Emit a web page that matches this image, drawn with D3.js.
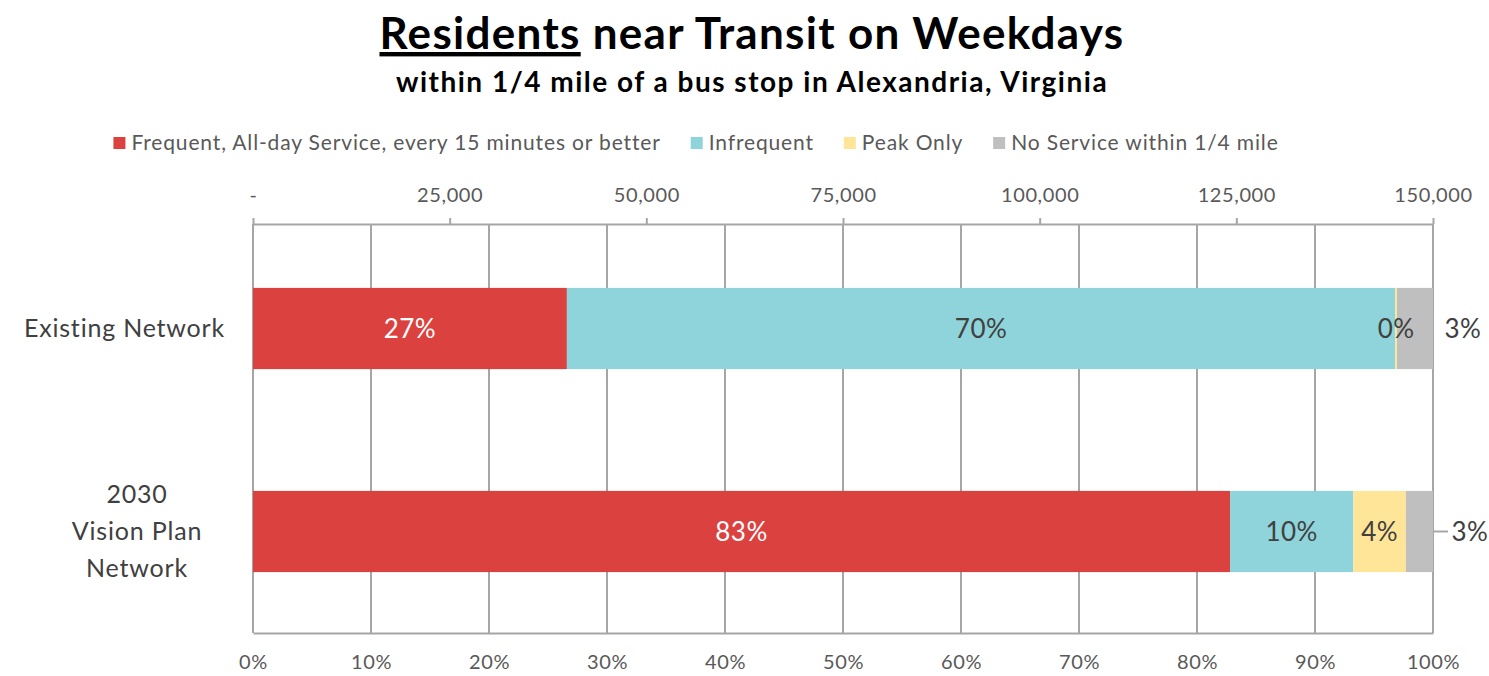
<!DOCTYPE html>
<html>
<head>
<meta charset="utf-8">
<script src="https://cdn.jsdelivr.net/npm/d3@7"></script>
<style>
  html, body { margin: 0; padding: 0; background: #fff; }
  svg { display: block; font-family: Lato, "Open Sans", sans-serif; }
</style>
</head>
<body>
<svg id="chart" width="1489" height="676"></svg>
<script>
// ---- data ----
const categories = ["Existing Network", "2030 Vision Plan Network"];
const categoryLines = [["Existing Network"], ["2030", "Vision Plan", "Network"]];
const seriesNames = ["Frequent, All-day Service, every 15 minutes or better", "Infrequent", "Peak Only", "No Service within 1/4 mile"];
const seriesColors = ["#DB423F", "#8FD4DA", "#FFE597", "#BFBFBF"];
const existingValues = [26.6, 70.2, 0.15, 3.05];
const visionValues = [82.8, 10.45, 4.45, 2.3];
const existingLabels = ["27%", "70%", "0%", "3%"];
const visionLabels = ["83%", "10%", "4%", "3%"];
const percentTicks = [0, 10, 20, 30, 40, 50, 60, 70, 80, 90, 100];
const residentTicks = [0, 25000, 50000, 75000, 100000, 125000, 150000];
const residentMax = 150000;

const rows = [
  { cat: categories[0], lines: categoryLines[0], values: existingValues, labels: existingLabels },
  { cat: categories[1], lines: categoryLines[1], values: visionValues, labels: visionLabels }
];

const svg = d3.select("#chart");
const pLeft = 253, pRight = 1433, pTop = 224, pBottom = 633;

const x = d3.scaleLinear().domain([0, 100]).range([pLeft, pRight]);
const xTop = d3.scaleLinear().domain([0, residentMax]).range([pLeft, pRight]);
const y = d3.scaleBand().domain(categories).range([pTop + 3, pBottom]).paddingInner(0.6).paddingOuter(0.3);

const gridColor = "#A6A6A6";
const textColor = "#595959";

// ---- title ----
const title = svg.append("text").attr("x", 752).attr("y", 49).attr("text-anchor", "middle")
  .attr("font-size", 44).attr("font-weight", 700).attr("letter-spacing", 1.3).attr("fill", "#000");
title.append("tspan").attr("text-decoration", "underline").text("Residents");
title.append("tspan").text(" near Transit on Weekdays");

svg.append("text").attr("x", 752).attr("y", 92).attr("text-anchor", "middle")
  .attr("font-size", 28).attr("font-weight", 700).attr("letter-spacing", 1.5).attr("fill", "#000")
  .text("within 1/4 mile of a bus stop in Alexandria, Virginia");

// ---- legend ----
const legend = svg.append("g");
let lx = 0;
seriesNames.forEach((name, i) => {
  const g = legend.append("g").attr("transform", `translate(${lx},0)`);
  g.append("rect").attr("x", 0).attr("y", -6).attr("width", 12).attr("height", 12).attr("fill", seriesColors[i]);
  const t = g.append("text").attr("x", 18).attr("y", 0).attr("dy", "0.35em")
    .attr("font-size", 21).attr("letter-spacing", 0.85).attr("fill", textColor).text(name);
  lx += 18 + t.node().getComputedTextLength() + 30;
});
lx -= 30;
legend.attr("transform", `translate(${696 - lx / 2},143)`);

// ---- grid ----
svg.append("g").selectAll("line").data(percentTicks).join("line")
  .attr("x1", d => x(d)).attr("x2", d => x(d))
  .attr("y1", pTop).attr("y2", pBottom)
  .attr("stroke", gridColor).attr("stroke-width", 2);

// ---- bottom axis ----
const bAxis = svg.append("g").attr("transform", `translate(0,${pBottom})`)
  .call(d3.axisBottom(x).tickValues(percentTicks).tickSize(0).tickPadding(22).tickFormat(d => d + "%"));
bAxis.select(".domain").attr("stroke", gridColor).attr("stroke-width", 2);
bAxis.selectAll("text").attr("font-size", 20).attr("letter-spacing", 0.6).attr("fill", textColor).attr("font-family", "Lato, sans-serif");

// ---- top axis ----
const tAxis = svg.append("g").attr("transform", `translate(0,${pTop})`)
  .call(d3.axisTop(xTop).tickValues(residentTicks).tickSize(6).tickSizeOuter(0).tickPadding(16)
    .tickFormat(d => d === 0 ? "-" : d3.format(",")(d)));
tAxis.select(".domain").attr("stroke", gridColor).attr("stroke-width", 2);
tAxis.selectAll(".tick line").attr("stroke", gridColor).attr("stroke-width", 2);
tAxis.selectAll("text").attr("font-size", 20).attr("letter-spacing", 0.6).attr("fill", textColor).attr("font-family", "Lato, sans-serif");

// ---- bars ----
rows.forEach(r => {
  let cum = 0;
  r.segs = r.values.map((v, i) => { const s = { i, x0: cum, x1: cum + v, label: r.labels[i], cat: r.cat }; cum += v; return s; });
});

const barG = svg.append("g");
rows.forEach(r => {
  barG.selectAll(null).data(r.segs).join("rect")
    .attr("x", d => x(d.x0)).attr("width", d => x(d.x1) - x(d.x0))
    .attr("y", y(r.cat)).attr("height", y.bandwidth())
    .attr("fill", d => seriesColors[d.i]);
});

// ---- data labels ----
rows.forEach((r, ri) => {
  const cy = y(r.cat) + y.bandwidth() / 2;
  r.segs.forEach(s => {
    let lxp;
    if (s.i === 3) {
      lxp = x(100) + (ri === 0 ? 30 : 37);
    } else {
      lxp = (x(s.x0) + x(s.x1)) / 2;
    }
    svg.append("text").attr("x", lxp).attr("y", cy).attr("dy", "0.35em").attr("text-anchor", "middle")
      .attr("font-size", 26).attr("letter-spacing", 0.5)
      .attr("fill", s.i === 0 ? "#fff" : "#404040").text(s.label);
    if (s.i === 3 && ri === 1) {
      svg.append("line").attr("x1", x(100)).attr("x2", x(100) + 15).attr("y1", cy).attr("y2", cy)
        .attr("stroke", gridColor).attr("stroke-width", 2);
    }
  });
});

// ---- category labels ----
rows.forEach((r, ri) => {
  const cy = y(r.cat) + y.bandwidth() / 2;
  const n = r.lines.length;
  const t = svg.append("text").attr("font-size", 25).attr("letter-spacing", 0.8).attr("fill", "#404040")
    .attr("text-anchor", ri === 0 ? "end" : "middle");
  r.lines.forEach((ln, k) => {
    t.append("tspan").attr("x", ri === 0 ? 225 : 137)
      .attr("y", cy + (k - (n - 1) / 2) * 37).attr("dy", "0.35em").text(ln);
  });
});
</script>
</body>
</html>
